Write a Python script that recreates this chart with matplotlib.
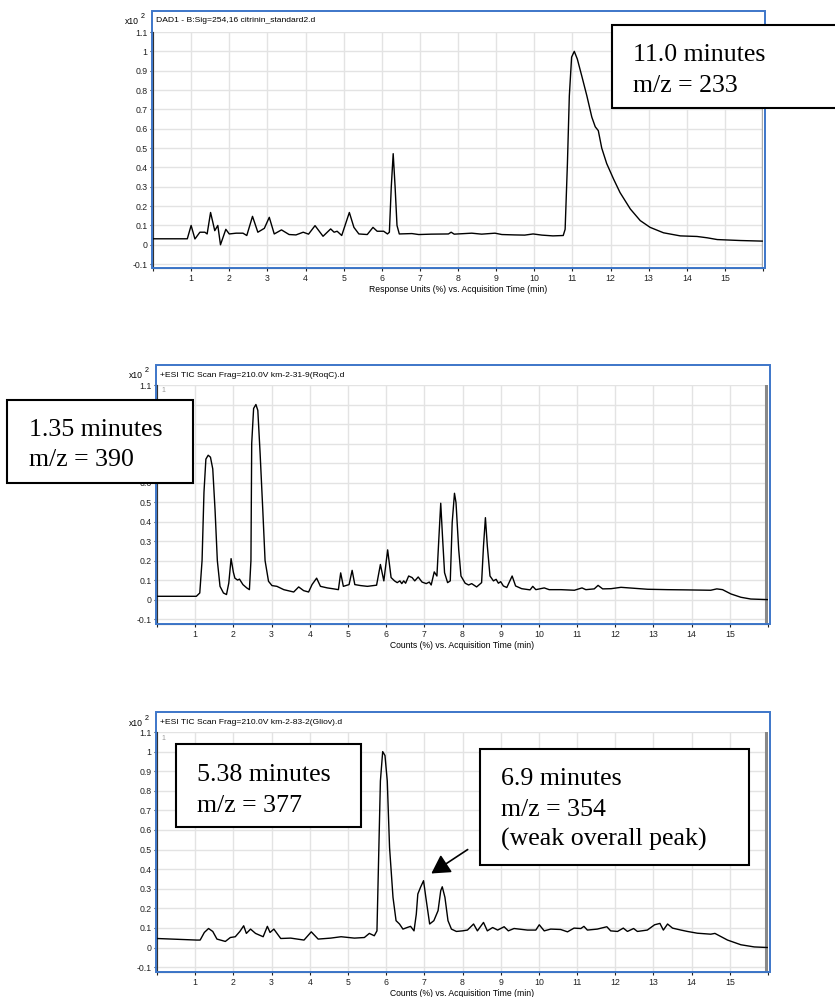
import matplotlib
matplotlib.use("Agg")
import matplotlib.pyplot as plt
from matplotlib.patches import Rectangle, FancyArrowPatch

# --- data ----------------------------------------------------------------
# DAD1 - citrinin standard (response units, x10^2)
dad_time = [0.0, 0.9, 1.0, 1.1, 1.23, 1.36, 1.42, 1.51, 1.62, 1.70, 1.77, 1.91,
            2.0, 2.18, 2.36, 2.46, 2.61, 2.75, 2.92, 3.05, 3.18, 3.37, 3.57, 3.75,
            3.94, 4.08, 4.25, 4.46, 4.66, 4.75, 4.83, 4.95, 5.15, 5.27, 5.40, 5.62,
            5.77, 5.88, 6.05, 6.15, 6.2, 6.25, 6.30, 6.35, 6.40, 6.46, 6.79, 6.97,
            7.3, 7.75, 7.82, 7.9, 8.36, 8.62, 8.97, 9.15, 9.49, 9.75, 9.97, 10.2,
            10.49, 10.76, 10.81, 10.87, 10.92, 10.98, 11.05, 11.13, 11.25, 11.38,
            11.51, 11.60, 11.68, 11.77, 11.90, 12.08, 12.25, 12.52, 12.78, 13.04,
            13.39, 13.83, 14.27, 14.54, 14.80, 15.41, 15.98]
dad_resp = [0.031, 0.031, 0.10, 0.03, 0.065, 0.065, 0.056, 0.167, 0.073, 0.10, 0.0, 0.08,
            0.056, 0.06, 0.06, 0.048, 0.147, 0.065, 0.085, 0.142, 0.056, 0.077, 0.053, 0.051,
            0.065, 0.055, 0.099, 0.044, 0.082, 0.065, 0.07, 0.048, 0.167, 0.09, 0.056, 0.053,
            0.09, 0.07, 0.07, 0.056, 0.065, 0.30, 0.471, 0.30, 0.10, 0.056, 0.058, 0.053,
            0.055, 0.056, 0.065, 0.055, 0.06, 0.055, 0.06, 0.053, 0.051, 0.05, 0.056, 0.05,
            0.046, 0.048, 0.08, 0.42, 0.77, 0.97, 1.0, 0.96, 0.87, 0.77,
            0.66, 0.61, 0.59, 0.50, 0.42, 0.34, 0.27, 0.185, 0.125, 0.09,
            0.062, 0.046, 0.043, 0.036, 0.027, 0.022, 0.019]

# +ESI TIC km-2-31-9 (RoqC)
roqc_time = [0.0, 1.03, 1.12, 1.18, 1.23, 1.28, 1.34, 1.40, 1.46, 1.52, 1.58, 1.65,
             1.74, 1.82, 1.88, 1.94, 2.0, 2.04, 2.11, 2.16, 2.25, 2.35, 2.42, 2.46,
             2.48, 2.53, 2.59, 2.64, 2.70, 2.77, 2.83, 2.92, 3.01, 3.14, 3.32, 3.58,
             3.71, 3.84, 3.97, 4.06, 4.18, 4.28, 4.46, 4.63, 4.75, 4.81, 4.88, 5.03,
             5.11, 5.18, 5.33, 5.51, 5.75, 5.85, 5.94, 6.04, 6.13, 6.22, 6.29, 6.36,
             6.41, 6.46, 6.51, 6.59, 6.68, 6.75, 6.84, 6.94, 7.05, 7.13, 7.18, 7.26,
             7.33, 7.38, 7.43, 7.48, 7.53, 7.61, 7.68, 7.73, 7.79, 7.83, 7.90, 7.96,
             8.07, 8.16, 8.24, 8.37, 8.50, 8.55, 8.60, 8.65, 8.72, 8.81, 8.88, 8.94,
             9.0, 9.07, 9.16, 9.30, 9.39, 9.55, 9.77, 9.84, 9.92, 10.14, 10.27, 10.58,
             10.93, 11.13, 11.23, 11.45, 11.55, 11.67, 11.89, 12.15, 12.50, 12.85,
             13.37, 13.81, 14.50, 14.66, 14.81, 15.03, 15.29, 15.55, 15.99]
roqc_counts = [0.017, 0.017, 0.034, 0.20, 0.55, 0.72, 0.74, 0.73, 0.67, 0.46, 0.20, 0.068,
               0.034, 0.026, 0.085, 0.21, 0.14, 0.11, 0.10, 0.105, 0.077, 0.06, 0.051, 0.20,
               0.80, 0.98, 1.0, 0.97, 0.75, 0.46, 0.20, 0.094, 0.072, 0.068, 0.051, 0.039,
               0.065, 0.046, 0.039, 0.077, 0.11, 0.068, 0.06, 0.055, 0.051, 0.137, 0.068, 0.077,
               0.15, 0.077, 0.072, 0.068, 0.074, 0.18, 0.096, 0.255, 0.113, 0.096, 0.087, 0.096,
               0.082, 0.096, 0.084, 0.121, 0.113, 0.096, 0.116, 0.09, 0.082, 0.09, 0.075, 0.142,
               0.121, 0.31, 0.494, 0.31, 0.138, 0.087, 0.096, 0.395, 0.545, 0.497, 0.258, 0.121,
               0.084, 0.075, 0.082, 0.065, 0.087, 0.275, 0.42, 0.275, 0.121, 0.096, 0.104, 0.084,
               0.092, 0.07, 0.062, 0.121, 0.07, 0.056, 0.05, 0.068, 0.051, 0.06, 0.051, 0.051,
               0.048, 0.06, 0.051, 0.055, 0.073, 0.055, 0.056, 0.063, 0.058, 0.053,
               0.051, 0.05, 0.048, 0.055, 0.051, 0.029, 0.012, 0.003, 0.0]

# +ESI TIC km-2-83-2 (Gliov)
gliov_time = [0.0, 1.04, 1.13, 1.24, 1.35, 1.46, 1.57, 1.79, 1.92, 2.05, 2.17, 2.27,
              2.34, 2.45, 2.58, 2.78, 2.89, 2.96, 3.06, 3.24, 3.50, 3.85, 4.04, 4.22,
              4.55, 4.82, 5.17, 5.43, 5.56, 5.69, 5.76, 5.81, 5.85, 5.91, 5.97, 6.03,
              6.09, 6.18, 6.26, 6.35, 6.44, 6.55, 6.64, 6.73, 6.79, 6.83, 6.90, 6.98,
              7.04, 7.14, 7.25, 7.36, 7.43, 7.47, 7.54, 7.62, 7.71, 7.84, 8.0, 8.13,
              8.29, 8.39, 8.55, 8.65, 8.79, 8.92, 9.09, 9.20, 9.35, 9.70, 9.92, 10.01,
              10.14, 10.31, 10.57, 10.75, 10.92, 11.10, 11.18, 11.27, 11.53, 11.78, 11.88,
              12.06, 12.21, 12.32, 12.48, 12.58, 12.84, 13.03, 13.17, 13.26, 13.37, 13.50,
              13.72, 13.89, 14.15, 14.50, 14.61, 14.94, 15.29, 15.64, 15.98]
gliov_counts = [0.046, 0.038, 0.038, 0.077, 0.097, 0.082, 0.043, 0.031, 0.051, 0.055, 0.082, 0.111,
                0.072, 0.094, 0.072, 0.055, 0.108, 0.077, 0.094, 0.046, 0.048, 0.038, 0.08, 0.043,
                0.048, 0.055, 0.048, 0.051, 0.072, 0.06, 0.085, 0.51, 0.85, 1.0, 0.98, 0.85,
                0.51, 0.256, 0.137, 0.12, 0.094, 0.102, 0.108, 0.085, 0.17, 0.273, 0.307, 0.341,
                0.256, 0.12, 0.137, 0.188, 0.29, 0.31, 0.256, 0.137, 0.094, 0.082, 0.085, 0.089,
                0.12, 0.085, 0.128, 0.085, 0.102, 0.089, 0.106, 0.085, 0.097, 0.089, 0.089, 0.116,
                0.085, 0.094, 0.092, 0.08, 0.099, 0.097, 0.108, 0.089, 0.094, 0.106, 0.085,
                0.082, 0.099, 0.082, 0.097, 0.082, 0.089, 0.116, 0.123, 0.089, 0.12, 0.099,
                0.089, 0.082, 0.073, 0.068, 0.072, 0.038, 0.014, 0.003, 0.0]

titles = ["DAD1 - B:Sig=254,16 citrinin_standard2.d",
          "+ESI TIC Scan Frag=210.0V km-2-31-9(RoqC).d",
          "+ESI TIC Scan Frag=210.0V km-2-83-2(Gliov).d"]
xlabels = ["Response Units (%) vs. Acquisition Time (min)",
           "Counts (%) vs. Acquisition Time (min)",
           "Counts (%) vs. Acquisition Time (min)"]
y_ticks = [-0.1, 0, 0.1, 0.2, 0.3, 0.4, 0.5, 0.6, 0.7, 0.8, 0.9, 1, 1.1]
y_ticklabels = ["-0.1", "0", "0.1", "0.2", "0.3", "0.4", "0.5", "0.6",
                "0.7", "0.8", "0.9", "1", "1.1"]
# labels of the middle pane hidden under the "1.35 minutes" box
hidden_labels = ["0.7", "0.8", "0.9", "1"]
x_ticks = list(range(0, 17))
x_ticklabels = [""] + [str(i) for i in range(1, 16)] + [""]

notes = [["11.0 minutes", "m/z = 233"],
         ["1.35 minutes", "m/z = 390"],
         ["5.38 minutes", "m/z = 377"],
         ["6.9 minutes", "m/z = 354", "(weak overall peak)"]]

# --- layout (pixels of the 835x997 figure) --------------------------------
W, H = 835, 997
BLUE = "#3d76c9"
SANS = "Liberation Sans"
SERIF = "Liberation Serif"


def fx(x):
    return x / W


def fy(y):
    return 1 - y / H


# axes box (left, top, right, bottom), outer blue frame, y bottom limit
panels = [
    dict(ax=(153, 32, 763, 268), frame=(152, 11, 765, 268), ybot=-0.12, cursor=False),
    dict(ax=(157, 385, 768, 624), frame=(156, 365, 770, 624), ybot=-0.125, cursor=True),
    dict(ax=(157, 732, 768, 972), frame=(156, 712, 770, 972), ybot=-0.125, cursor=True),
]
series = [(dad_time, dad_resp), (roqc_time, roqc_counts), (gliov_time, gliov_counts)]

fig = plt.figure(figsize=(W / 100, H / 100), dpi=100)

for i, p in enumerate(panels):
    l, t, r, b = p["ax"]
    ax = fig.add_axes([fx(l), fy(b), (r - l) / W, (b - t) / H])
    tx, ty = series[i]
    ax.plot(tx, ty, color="black", lw=1.0, zorder=3)

    ax.set_xlim(0, 16)
    ax.set_ylim(p["ybot"], 1.1)
    ax.set_xticks(x_ticks)
    ax.set_xticklabels(x_ticklabels, fontsize=6.3, family=SANS)
    ax.set_yticks(y_ticks)
    labels = y_ticklabels
    if i == 1:
        labels = ["" if s in hidden_labels else s for s in y_ticklabels]
    ax.set_yticklabels(labels, fontsize=6.3, family=SANS)
    ax.tick_params(axis="both", direction="out", length=2.5, width=0.8, pad=1.5,
                   colors="#222222")
    ax.grid(True, color="#e3e3e3", lw=1.0, zorder=0)
    ax.set_axisbelow(True)
    for side in ["top", "right"]:
        ax.spines[side].set_visible(False)
    ax.spines["left"].set_color("#333333")
    ax.spines["bottom"].set_color("#333333")
    ax.set_xlabel(xlabels[i], fontsize=6.2, family=SANS, labelpad=2)

    if p["cursor"]:
        ax.axvline(15.95, color="#888888", lw=2.2, zorder=2)
        fig.text(fx(l + 4), fy(t + 6), "1", fontsize=5, color="#999999",
                 family=SANS, va="center", ha="left")
    else:
        ax.axvline(15.97, color="#aaaaaa", lw=1.0, zorder=2)

    # blue pane frame with the title inside
    fl, ft, fr, fb = p["frame"]
    fig.patches.append(Rectangle((fx(fl), fy(fb)), (fr - fl) / W, (fb - ft) / H,
                                 transform=fig.transFigure, fill=False,
                                 edgecolor=BLUE, lw=1.4, zorder=5))
    fig.text(fx(fl + 4), fy(ft + 10), titles[i], fontsize=6.1, family=SANS,
             va="center", ha="left")
    fig.text(fx(l - 14), fy(ft + 11), "x10", fontsize=6.2, family=SANS,
             va="center", ha="right")
    fig.text(fx(l - 12), fy(ft + 6), "2", fontsize=5.2, family=SANS,
             va="center", ha="left")

# --- annotation boxes -------------------------------------------------------
# (left, top, right, bottom, text x, first baseline)
boxes = [(612, 25, 845, 108, 633, 61),
         (7, 400, 193, 483, 29, 436),
         (176, 744, 361, 827, 197, 781),
         (480, 749, 749, 865, 501, 785)]
for (bl, bt, br, bb, tx0, base), lines in zip(boxes, notes):
    fig.patches.append(Rectangle((fx(bl), fy(bb)), (br - bl) / W, (bb - bt) / H,
                                 transform=fig.transFigure, facecolor="white",
                                 edgecolor="black", lw=1.5, zorder=10))
    for k, line in enumerate(lines):
        fig.text(fx(tx0), fy(base + 30.5 * k), line, fontsize=18.6, family=SERIF,
                 va="baseline", ha="left", zorder=11)

# arrow pointing at the 6.9 min peak
fig.add_artist(FancyArrowPatch(
    (fx(470), fy(848)), (fx(429), fy(875)), transform=fig.transFigure,
    arrowstyle="-|>,head_length=7,head_width=4", color="black", lw=1.2,
    mutation_scale=1.6, zorder=11))

fig.savefig("out.png", dpi=100)
